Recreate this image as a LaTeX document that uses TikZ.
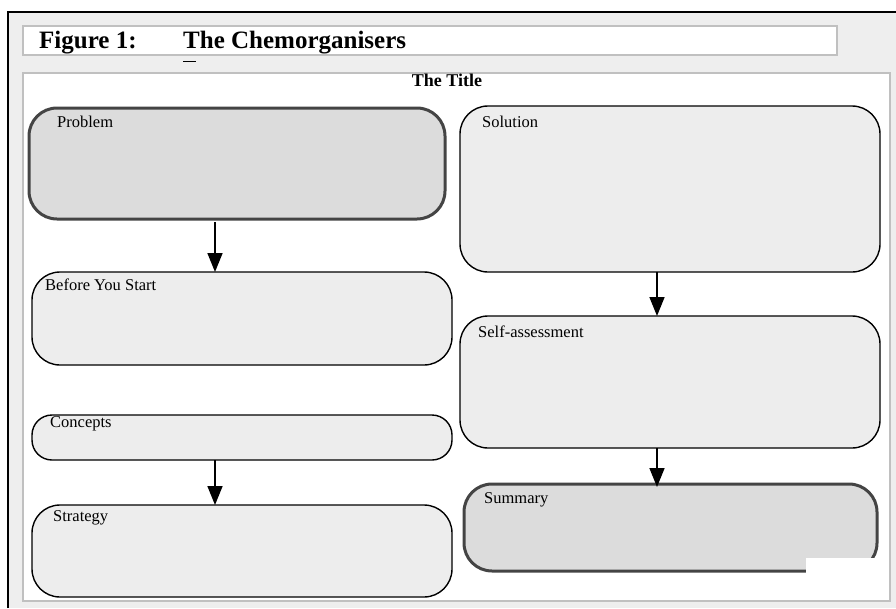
\documentclass[tikz,border=0pt]{standalone}
\usepackage{fontspec}
\setmainfont{Liberation Serif}
\usepackage{xcolor}
\usetikzlibrary{positioning,arrows.meta,calc}
\definecolor{PageGrey}{HTML}{EEEEEE}
\definecolor{FrameGrey}{HTML}{C0C0C0}
\definecolor{BoxFill}{HTML}{EDEDED}
\definecolor{KeyFill}{HTML}{DCDCDC}
\definecolor{KeyEdge}{HTML}{444444}
\newcommand{\boxlabel}[1]{{\fontsize{16.5}{19}\selectfont #1}}
\newcommand{\stagebox}[9]{\node[#2,minimum width={#5-#3},minimum height={#6-#4}] (#1) at ({(#3+#5)/2},{(#4+#6)/2}) {};
  \node[anchor=base west,inner sep=0pt] (#1-label) at ([shift={(#8,#9)}]#1.north west) {\boxlabel{#7}};}

\begin{document}
\begin{tikzpicture}[x=1pt,y=-1pt,
  plainstage/.style={draw=black,line width=1.4pt,fill=BoxFill,rounded corners=28pt,inner sep=0pt,outer sep=0pt},
  keystage/.style={draw=KeyEdge,line width=3pt,fill=KeyFill,rounded corners=28pt,inner sep=0pt,outer sep=0pt},
  frame/.style={draw=FrameGrey,fill=white,inner sep=0pt,outer sep=0pt,anchor=north west},
  flowarrow/.style={line width=1.6pt,-{Triangle[length=19pt,width=15pt]}}]
  \useasboundingbox (0,0) rectangle (896,608);
  % page
  \fill[PageGrey] (8,12) rectangle (896,608);
  \draw[line width=2pt] (8,608) -- (8,12) -- (896,12);
  % heading strip
  \node[frame,line width=1.5pt,minimum width=814,minimum height=29] (header) at (23,26) {};
  \node[anchor=base west,inner sep=0pt] (fig-num) at (39,48) {\fontsize{25}{28}\selectfont\bfseries Figure 1:};
  \node[anchor=base west,inner sep=0pt] (fig-title) at (183,48) {\fontsize{25}{28}\selectfont\bfseries The Chemorganisers};
  \draw[line width=0.8pt] ([yshift=-13pt]fig-title.base west) -- ++(13,0);
  % main panel
  \node[frame,line width=2pt,minimum width=867,minimum height=528] (panel) at (23,73) {};
  \node[anchor=base,inner sep=0pt] (panel-title) at (447,86) {\fontsize{18}{21}\selectfont\bfseries The Title};
  % stages
  \stagebox{problem}{keystage}{29}{108}{445}{219}{Problem}{28}{19}
  \stagebox{before}{plainstage}{32}{272}{452}{365}{Before You Start}{13}{18}
  \stagebox{concepts}{plainstage,rounded corners=20pt}{32}{415}{452}{460}{Concepts}{18}{12}
  \stagebox{strategy}{plainstage}{32}{505}{452}{597}{Strategy}{21}{16}
  \stagebox{solution}{plainstage}{460}{106}{880}{272}{Solution}{22}{21}
  \stagebox{selfcheck}{plainstage}{460}{316}{880}{448}{Self-assessment}{18}{21}
  \stagebox{summary}{keystage}{464}{484}{877}{571}{Summary}{20}{19}
  \fill[white] (806,558) rectangle (889,600);
  % arrows
  \coordinate (left-axis) at (215,0);
  \coordinate (right-axis) at (657,0);
  \draw[flowarrow,shorten <=3pt] (problem.south -| left-axis) -- (before.north -| left-axis);
  \draw[flowarrow] (concepts.south -| left-axis) -- (strategy.north -| left-axis);
  \draw[flowarrow] (solution.south -| right-axis) -- (selfcheck.north -| right-axis);
  \draw[flowarrow] (selfcheck.south -| right-axis) -- ([yshift=-3pt]summary.north -| right-axis);
\end{tikzpicture}
\end{document}
